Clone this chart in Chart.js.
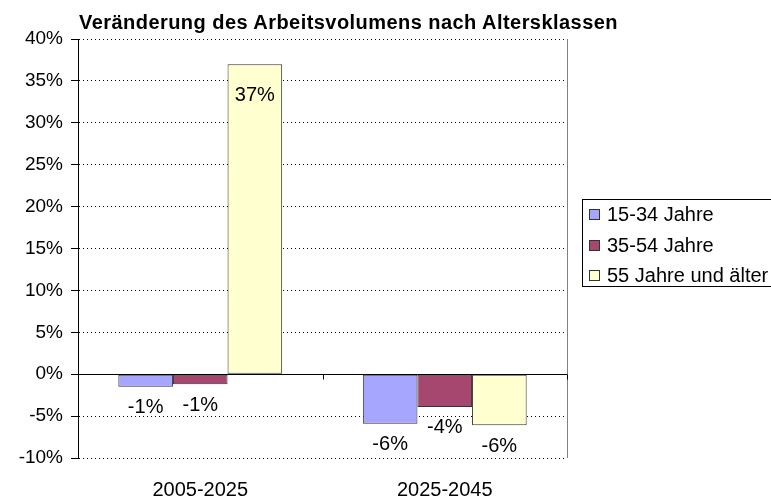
<!DOCTYPE html>
<html>
<head>
<meta charset="utf-8">
<script src="https://cdn.jsdelivr.net/npm/chart.js@4.4.0/dist/chart.umd.min.js"></script>
<style>
  html, body { margin: 0; padding: 0; background: #fff; overflow: hidden; }
  #wrap { position: relative; width: 771px; height: 499px; overflow: hidden; font-family: "Liberation Sans", Arial, sans-serif; }
  #title { position: absolute; left: 79px; top: 10px; font-weight: bold; font-size: 20px; line-height: 24px; letter-spacing: 0.45px; color: #000; white-space: nowrap; }
  #legend { position: absolute; left: 582px; top: 199px; width: 240px; height: 88px; border: 1px solid #000; box-sizing: border-box; }
  .item { position: absolute; left: 6px; font-size: 20px; line-height: 23px; color: #000; white-space: nowrap; }
  .item span.sw { display: inline-block; width: 9px; height: 9px; border: 1px solid #333; margin-right: 7px; vertical-align: 1px; }
</style>
</head>
<body>
<div id="wrap">
  <canvas id="chart" width="771" height="499"></canvas>
  <div id="title">Veränderung des Arbeitsvolumens nach Altersklassen</div>
  <div id="legend"></div>
</div>
<script>
// Chart data
const categories = ['2005-2025', '2025-2045'];
const seriesNames = ['15-34 Jahre', '35-54 Jahre', '55 Jahre und älter'];
const young = [-1.5, -5.9];
const middle = [-1.2, -3.9];
const older = [37.0, -6.1];
const seriesColors = ['#a6a6ff', '#a5476f', '#ffffd0'];
const yTicks = [-10, -5, 0, 5, 10, 15, 20, 25, 30, 35, 40];

const FONT = '"Liberation Sans", Arial, sans-serif';

// Draw value labels next to the bar ends
const valueLabels = {
  id: 'valueLabels',
  afterDatasetsDraw(chart) {
    const ctx = chart.ctx;
    ctx.save();
    ctx.font = '20px ' + FONT;
    ctx.fillStyle = '#000';
    ctx.textAlign = 'center';
    ctx.textBaseline = 'middle';
    chart.data.datasets.forEach((ds, i) => {
      chart.getDatasetMeta(i).data.forEach((bar, j) => {
        const v = ds.data[j];
        const y = v < 0 ? bar.y + 21 : bar.y + 31;
        ctx.fillText(Math.round(v) + '%', bar.x, y);
      });
    });
    ctx.restore();
  }
};

// Zero line with category tick marks, plus right border of the plot area
const axisExtras = {
  id: 'axisExtras',
  afterDatasetsDraw(chart) {
    const ctx = chart.ctx;
    const area = chart.chartArea;
    const y0 = Math.round(chart.scales.y.getPixelForValue(0)) + 0.5;
    ctx.save();
    ctx.strokeStyle = '#808080';
    ctx.lineWidth = 1;
    ctx.beginPath();
    ctx.moveTo(Math.round(area.right) + 0.5, area.top);
    ctx.lineTo(Math.round(area.right) + 0.5, area.bottom);
    ctx.stroke();
    ctx.strokeStyle = '#000';
    ctx.beginPath();
    ctx.moveTo(area.left, y0);
    ctx.lineTo(area.right, y0);
    const step = (area.right - area.left) / categories.length;
    for (let i = 0; i <= categories.length; i++) {
      const x = Math.round(area.left + step * i) + 0.5;
      ctx.moveTo(x, y0);
      ctx.lineTo(x, y0 + 5);
    }
    ctx.stroke();
    ctx.restore();
  }
};

const datasets = [young, middle, older].map((d, i) => ({
  label: seriesNames[i],
  data: d,
  backgroundColor: seriesColors[i],
  borderColor: '#333',
  borderWidth: 1,
  borderSkipped: false,
  categoryPercentage: 0.67,
  barPercentage: 1
}));

new Chart(document.getElementById('chart'), {
  type: 'bar',
  data: { labels: categories, datasets: datasets },
  options: {
    responsive: false,
    animation: false,
    layout: { padding: { top: 39, right: 204, left: 0, bottom: 0 } },
    plugins: { legend: { display: false }, tooltip: { enabled: false }, title: { display: false } },
    scales: {
      x: {
        grid: { display: false, drawTicks: false },
        border: { display: false },
        ticks: { color: '#000', font: { family: FONT, size: 20 }, padding: 20 },
        afterFit: s => { s.height = 41; }
      },
      y: {
        min: -10,
        max: 40,
        afterBuildTicks: s => { s.ticks = yTicks.map(v => ({ value: v })); },
        grid: {
          color: ctx => ctx.tick && ctx.tick.value === 0 ? 'rgba(0,0,0,0)' : '#000',
          tickColor: '#000',
          tickLength: 7,
          tickWidth: 1
        },
        border: { display: true, color: '#000', dash: [1, 3] },
        ticks: {
          color: '#000',
          padding: 8,
          font: { family: FONT, size: 19 },
          callback: v => v + '%'
        },
        afterFit: s => { s.width = 78; }
      }
    }
  },
  plugins: [valueLabels, axisExtras]
});

// Legend
const legend = document.getElementById('legend');
seriesNames.forEach((name, i) => {
  const item = document.createElement('div');
  item.className = 'item';
  item.style.top = (3 + i * 30.5) + 'px';
  item.innerHTML = '<span class="sw" style="background:' + seriesColors[i] + '"></span>' + name;
  legend.appendChild(item);
});
</script>
</body>
</html>
